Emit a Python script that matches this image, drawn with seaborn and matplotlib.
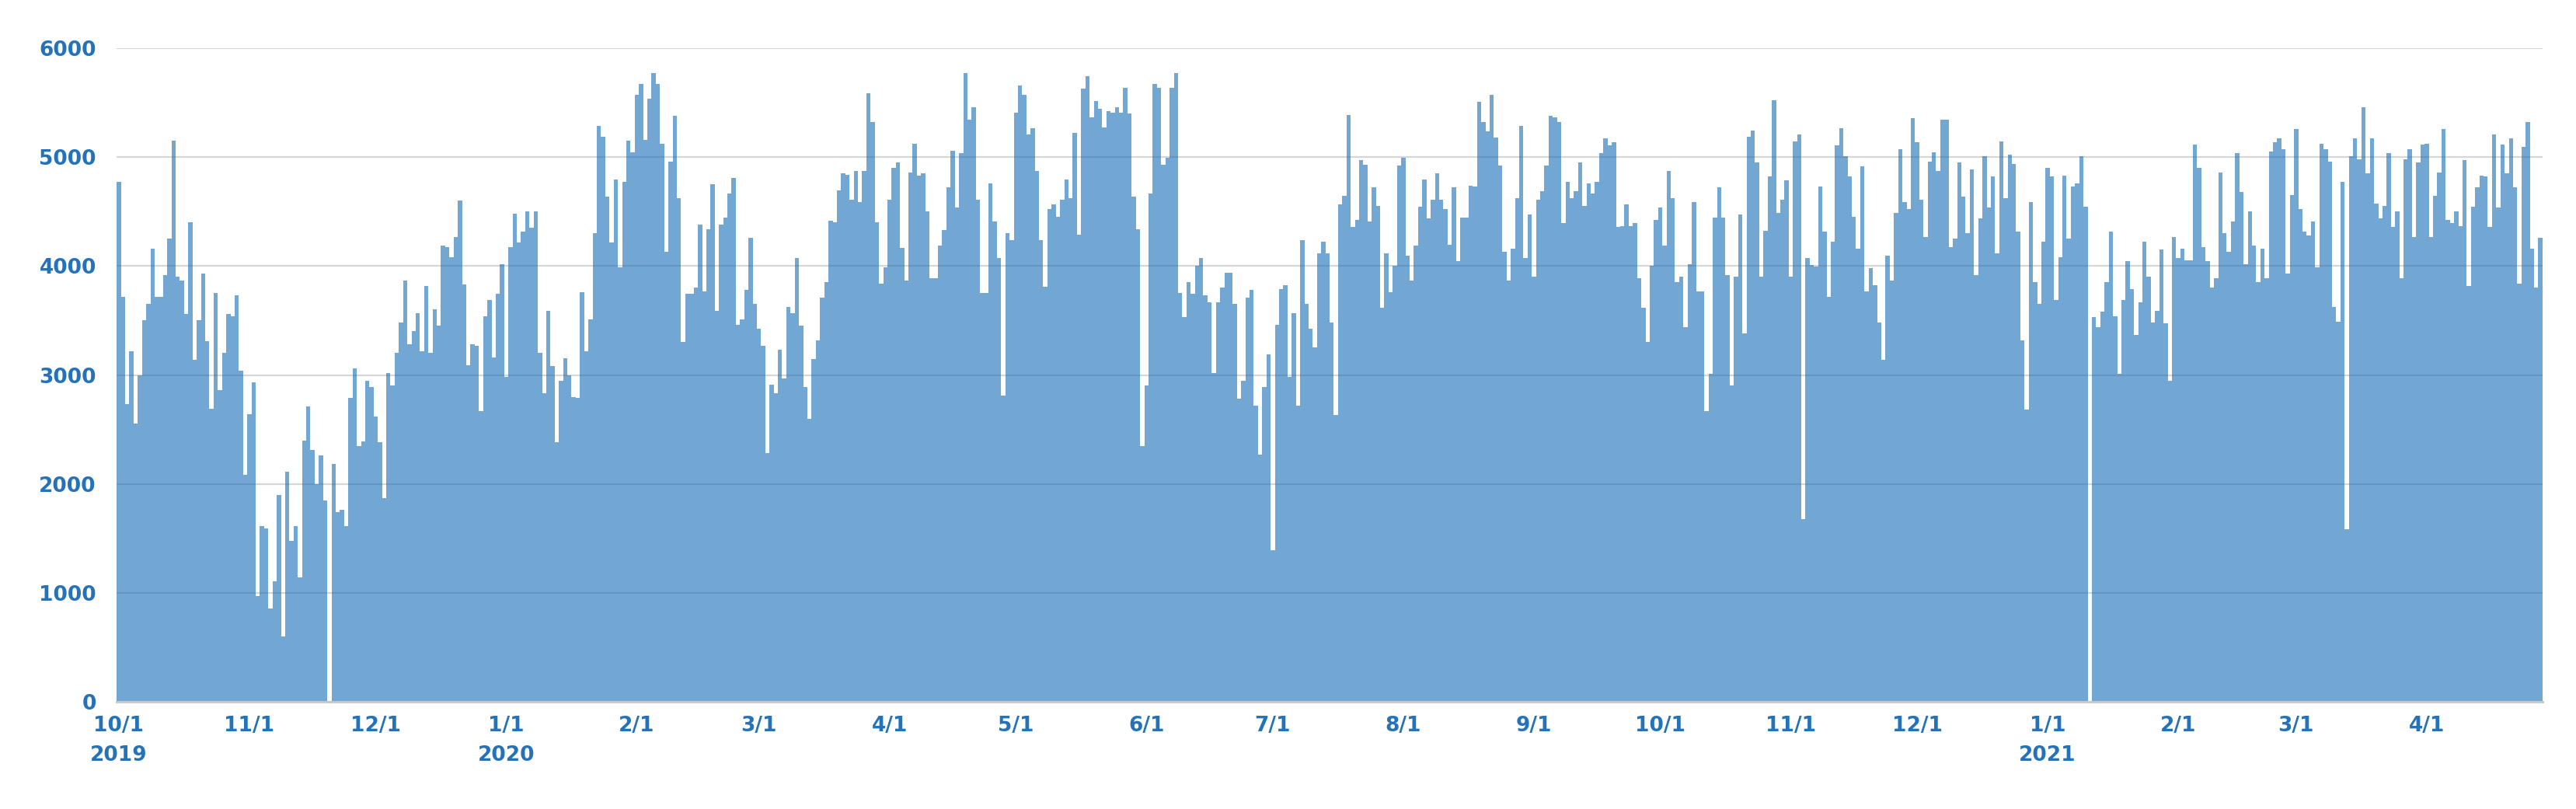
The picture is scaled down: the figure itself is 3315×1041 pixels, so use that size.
import numpy as np
import pandas as pd
import matplotlib
matplotlib.use("Agg")
import matplotlib.pyplot as plt
import seaborn as sns

# ---------------- data ----------------
start_date = "2019-10-01"

counts_q4_2019 = [
    4775, 3720, 2730, 3220, 2555, 3000, 3500, 3650, 4160, 3720,
    3720, 3920, 4250, 5150, 3900, 3870, 3560, 4400, 3140, 3500,
    3930, 3310, 2690, 3750, 2860, 3200, 3560, 3540, 3730, 3040,
    2085, 2640, 2930, 970, 1615, 1590, 855, 1105, 1900, 600,
    2115, 1475, 1615, 1140, 2400, 2710, 2315, 1995, 2265, 1850,
    0, 2180, 1740, 1760, 1610, 2790, 3060, 2345, 2390, 2945,
    2890, 2615, 2380, 1870, 3020, 2905, 3200, 3480, 3865, 3285,
    3400, 3570, 3220, 3820, 3200, 3600, 3450, 4190, 4175, 4080,
    4270, 4600, 3830, 3090, 3285, 3265, 2670, 3540, 3690, 3160,
    3745, 4015,
]

counts_q1_2020 = [
    2980, 4175, 4480, 4215, 4320, 4500, 4350, 4500, 3200, 2835,
    3590, 3080, 2380, 2945, 3155, 3000, 2795, 2790, 3760, 3220,
    3510, 4300, 5290, 5190, 4635, 4220, 4795, 3985, 4775, 5150,
    5045, 5570, 5670, 5155, 5540, 5770, 5670, 5125, 4130, 4960,
    5380, 4620, 3300, 3745, 3745, 3800, 4380, 3770, 4335, 4750,
    3590, 4380, 4445, 4665, 4810, 3460, 3510, 3780, 4260, 3650,
    3425, 3265, 2285, 2910, 2835, 3230, 2970, 3625, 3570, 4075,
    3450, 2890, 2600, 3145, 3315, 3710, 3855, 4415, 4400, 4695,
    4855, 4840, 4610, 4875, 4585, 4870, 5585, 5320, 4400, 3840,
    3985,
]

counts_q2_2020 = [
    4610, 4900, 4950, 4170, 3870, 4860, 5125, 4830, 4850, 4500,
    3885, 3885, 4185, 4330, 4720, 5060, 4540, 5040, 5770, 5345,
    5460, 4610, 3755, 3755, 4760, 4410, 4075, 2810, 4305, 4240,
    5410, 5660, 5570, 5210, 5265, 4870, 4240, 3810, 4525, 4565,
    4455, 4610, 4795, 4620, 5225, 4290, 5630, 5745, 5365, 5515,
    5445, 5270, 5420, 5410, 5455, 5410, 5635, 5400, 4635, 4335,
    2345, 2905, 4665, 5670, 5635, 4930, 4995, 5635, 5770, 3755,
    3535, 3855, 3745, 4000, 4075, 3730, 3665, 3020, 3665, 3800,
    3935, 3935, 3655, 2780, 2950, 3710, 3780, 2715, 2270, 2890,
    3190,
]

counts_q3_2020 = [
    1390, 3460, 3790, 3825, 2980, 3570, 2715, 4235, 3650, 3425,
    3250, 4120, 4225, 4120, 3480, 2635, 4565, 4645, 5390, 4360,
    4425, 4970, 4930, 4410, 4720, 4555, 3615, 4120, 3760, 4000,
    4920, 4995, 4095, 3870, 4190, 4545, 4795, 4435, 4610, 4855,
    4610, 4525, 4195, 4720, 4045, 4445, 4445, 4740, 4730, 5510,
    5320, 5235, 5575, 5180, 4920, 4130, 3870, 4160, 4620, 5285,
    4075, 4475, 3905, 4610, 4685, 4920, 5380, 5365, 5320, 4395,
    4775, 4620, 4685, 4950, 4555, 4760, 4665, 4775, 5035, 5175,
    5105, 5140, 4360, 4365, 4565, 4365, 4395, 3885, 3615, 3305,
    4000, 4425,
]

counts_q4_2020 = [
    4540, 4190, 4870, 4620, 3855, 3905, 3440, 4020, 4585, 3765,
    3765, 2670, 3010, 4445, 4720, 4445, 3920, 2905, 3905, 4470,
    3380, 5190, 5245, 4950, 3905, 4325, 4820, 5520, 4490, 4610,
    4785, 3905, 5145, 5210, 1675, 4075, 4010, 3995, 4730, 4315,
    3715, 4225, 5105, 5265, 5005, 4820, 4455, 4160, 4915, 3765,
    3980, 3825, 3480, 3140, 4095, 3870, 4490, 5070, 4590, 4525,
    5355, 5140, 4610, 4270, 4960, 5045, 4870, 5345, 5345, 4175,
    4255, 4950, 4635, 4305, 4890, 3920, 4435, 5005, 4535, 4820,
    4120, 5145, 4620, 5025, 4940, 4315, 3315, 2685, 4590, 3855,
    3650, 4225,
]

counts_2021 = [
    4905, 4820, 3690, 4080, 4830, 4255, 4730, 4760, 5005, 4545,
    0, 3535, 3440, 3585, 3855, 4315, 3540, 3010, 3690, 4045,
    3790, 3365, 3665, 4225, 3905, 3480, 3590, 4155, 3475, 2950,
    4270, 4075, 4160, 4055, 4055, 5115, 4905, 4175, 4045, 3800,
    3885, 4860, 4300, 4130, 4410, 5035, 4680, 4015, 4500, 4190,
    3855, 4160, 3885, 5050, 5140, 5170, 5070, 3930, 4655, 5255,
    4520, 4315, 4280, 4410, 3990, 5125, 5070, 4960, 3625, 3490,
    4775, 1585, 5005, 5170, 4980, 5455, 4855, 5170, 4575, 4435,
    4555, 5035, 4360, 4500, 3885, 4980, 5070, 4270, 4950, 5115,
    5125, 4270, 4645, 4860, 5255, 4425, 4395, 4500, 4365, 4970,
    3820, 4545, 4720, 4830, 4820, 4360, 5210, 4535, 5115, 4850,
    5175, 4720, 3835, 5095, 5320, 4160, 3800, 4260,
]

month_tick_labels = [
    "10/1\n2019", "11/1", "12/1", "1/1\n2020", "2/1", "3/1", "4/1",
    "5/1", "6/1", "7/1", "8/1", "9/1", "10/1", "11/1", "12/1",
    "1/1\n2021", "2/1", "3/1", "4/1",
]
y_ticks = [0, 1000, 2000, 3000, 4000, 5000, 6000]

# ---------------- build table ----------------
daily_counts = (counts_q4_2019 + counts_q1_2020 + counts_q2_2020
                + counts_q3_2020 + counts_q4_2020 + counts_2021)
dates = pd.date_range(start_date, periods=len(daily_counts), freq="D")
day_num = np.asarray((dates - dates[0]).days)
df = pd.DataFrame({"day": day_num, "count": daily_counts})

tick_dates = pd.date_range(start_date, periods=len(month_tick_labels), freq="MS")
tick_pos = np.asarray((tick_dates - dates[0]).days)

# ---------------- style ----------------
sns.set_theme(style="white")
plt.rcParams["font.family"] = ["DejaVu Sans"]

label_color = "#2473BA"
bar_color = "#166CB7"

fig = plt.figure(figsize=(33.15, 10.41), dpi=100)
ax = fig.add_axes([0.0453, 0.1326, 0.9417, 0.8078])

sns.barplot(data=df, x="day", y="count", native_scale=True, width=1.0,
            color=bar_color, saturation=1, alpha=0.6, linewidth=0,
            edgecolor="none", errorbar=None, ax=ax)

ax.set_xlim(-0.5, len(daily_counts) - 0.5)
ax.set_ylim(0, 6000)
ax.set_axisbelow(True)
ax.yaxis.grid(True, color="#D6D6D6", linewidth=1.6)
ax.xaxis.grid(False)

for side in ["top", "right", "left"]:
    ax.spines[side].set_visible(False)
ax.spines["bottom"].set_color("#C8C8C8")
ax.spines["bottom"].set_linewidth(2.2)

ax.set_yticks(y_ticks)
ax.set_yticklabels([str(v) for v in y_ticks], fontsize=19,
                   fontweight="bold", color=label_color)
ax.set_xticks(tick_pos)
ax.set_xticklabels(month_tick_labels, fontsize=19, fontweight="bold",
                   color=label_color)
for lbl in ax.get_xticklabels():
    lbl.set_linespacing(1.6)

ax.tick_params(axis="y", length=0, pad=19)
ax.tick_params(axis="x", length=0, pad=13)
ax.set_xlabel("")
ax.set_ylabel("")

fig.savefig("out.png", dpi=100, facecolor="white")
